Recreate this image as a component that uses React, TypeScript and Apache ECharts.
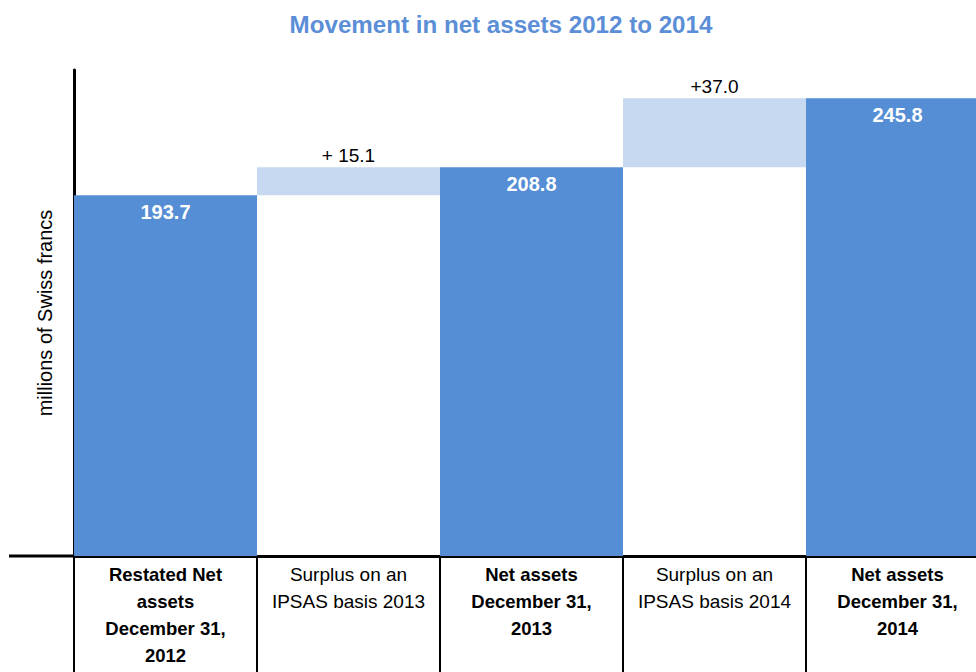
import React, { useEffect, useRef } from "react";
import * as echarts from "echarts";

const categories = [
  "Restated Net\nassets\nDecember 31,\n2012",
  "Surplus on an\nIPSAS basis 2013",
  "Net assets\nDecember 31,\n2013",
  "Surplus on an\nIPSAS basis 2014",
  "Net assets\nDecember 31,\n2014",
];
const baseValues = [0, 193.7, 0, 208.8, 0];
const barValues = [193.7, 15.1, 208.8, 37.0, 245.8];
const barLabels = ["193.7", "+ 15.1", "208.8", "+37.0", "245.8"];
const isTotal = [true, false, true, false, true];

const FONT = "Arial, 'Liberation Sans', sans-serif";

export default function App() {
  const ref = useRef<HTMLDivElement>(null);
  useEffect(() => {
    if (!ref.current) return;
    const chart = echarts.init(ref.current, null, { renderer: "svg" });
    const AXIS_Y = 556;
    chart.setOption({
      animation: false,
      backgroundColor: "#ffffff",
      grid: { left: 74, top: 70, width: 915, height: AXIS_Y - 70, outerBoundsMode: "none", containLabel: false },
      xAxis: {
        type: "category",
        data: categories,
        boundaryGap: true,
        axisLine: { show: true, lineStyle: { color: "#000", width: 3 } },
        axisTick: { show: true, length: 120, lineStyle: { color: "#000", width: 2 } },
        axisLabel: {
          interval: 0,
          margin: 5,
          formatter: (v: string, i: number) => {
            const tag = isTotal[i] ? "b" : "n";
            return v.split("\n").map((l) => `{${tag}|${l}}`).join("\n");
          },
          rich: {
            b: { fontFamily: FONT, fontSize: 18.5, fontWeight: "bold", color: "#000", lineHeight: 27, align: "center" },
            n: { fontFamily: FONT, fontSize: 19, fontWeight: "normal", color: "#000", lineHeight: 27, align: "center" },
          },
        },
      },
      yAxis: {
        type: "value",
        min: 0,
        max: 261,
        name: "millions of Swiss francs",
        nameLocation: "middle",
        nameGap: 19,
        nameTextStyle: { fontFamily: FONT, fontSize: 20, color: "#000" },
        axisLine: { show: true, lineStyle: { color: "#000", width: 3 } },
        axisTick: { show: false },
        axisLabel: { show: false },
        splitLine: { show: false },
      },
      graphic: [
        {
          type: "text",
          x: 501,
          y: 25,
          scaleX: 1.05,
          style: {
            text: "Movement in net assets 2012 to 2014",
            fill: "#5B8ED6",
            font: "bold 23px Arial, 'Liberation Sans', sans-serif",
            textAlign: "center",
            textVerticalAlign: "middle",
          },
        },
        {
          type: "line",
          shape: { x1: 9, y1: AXIS_Y, x2: 74, y2: AXIS_Y },
          style: { stroke: "#000", lineWidth: 3 },
          z: 100,
        },
      ],
      series: [
        {
          type: "bar",
          stack: "w",
          data: baseValues,
          itemStyle: { color: "transparent" },
          barCategoryGap: "0%",
          silent: true,
        },
        {
          type: "bar",
          stack: "w",
          barCategoryGap: "0%",
          data: barValues.map((v, i) => ({
            value: v,
            itemStyle: { color: isTotal[i] ? "#558ED5" : "#C6D9F1" },
            label: isTotal[i]
              ? {
                  show: true,
                  position: "insideTop",
                  distance: 7,
                  formatter: barLabels[i],
                  color: "#fff",
                  fontFamily: FONT,
                  fontSize: 20,
                  fontWeight: "bold",
                }
              : {
                  show: true,
                  position: "top",
                  distance: 2,
                  formatter: barLabels[i],
                  color: "#000",
                  fontFamily: FONT,
                  fontSize: 19,
                  fontWeight: "normal",
                },
          })),
        },
      ],
    });
    return () => chart.dispose();
  }, []);
  return (
    <div
      ref={ref}
      style={{ position: "fixed", left: 0, top: 0, width: 976, height: 672, background: "#fff" }}
    />
  );
}
